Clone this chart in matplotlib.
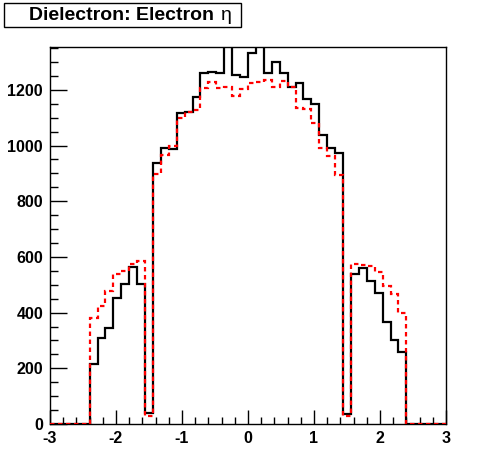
import numpy as np
import matplotlib.pyplot as plt

plt.rcParams['font.family'] = ['Liberation Sans', 'DejaVu Sans']
plt.rcParams['axes.unicode_minus'] = False

# 50 bins of eta from -3 to 3
edges = np.linspace(-3, 3, 51)

black_vals = [0, 0, 0, 0, 0,
              215, 310, 346, 454, 504, 565, 502, 41,
              938, 990, 986, 1118, 1120, 1175, 1259, 1265, 1262, 1380,
              1252, 1247, 1333, 1360, 1259, 1301, 1259, 1209, 1223, 1167,
              1148, 1038, 993, 974, 35,
              537, 561, 515, 469, 367, 302, 259,
              0, 0, 0, 0, 0]

red_vals = [0, 0, 0, 0, 0,
            381, 424, 478, 537, 548, 573, 586, 30,
            898, 966, 998, 1100, 1121, 1127, 1208, 1229, 1208, 1211,
            1179, 1202, 1223, 1229, 1235, 1211, 1233, 1209, 1136, 1130,
            1082, 990, 962, 894, 30,
            574, 571, 567, 545, 497, 466, 400,
            0, 0, 0, 0, 0]

fig = plt.figure(figsize=(4.96, 4.72), dpi=100)
ax = fig.add_axes([50/496, 1 - 424/472, 396/496, 377/472])

ax.stairs(black_vals, edges, baseline=0, color='black', linewidth=1.6, zorder=2)
ax.stairs(red_vals, edges, baseline=0, color='red', linewidth=1.6,
          linestyle=(0, (2, 1.6)), zorder=3)

ax.set_xlim(-3, 3)
ax.set_ylim(0, 1354)

ax.set_xticks(np.arange(-3, 4, 1))
ax.set_xticks(np.arange(-3, 3.01, 0.2), minor=True)
ax.set_yticks(np.arange(0, 1201, 200))
ax.set_yticks(np.arange(0, 1351, 50), minor=True)

ax.tick_params(which='both', direction='in', top=False, right=False,
               labelsize=11.5, width=1)
ax.tick_params(which='major', length=10)
ax.tick_params(which='minor', length=5)
ax.tick_params(axis='y', which='major', length=12, pad=5)
ax.tick_params(axis='y', which='minor', length=6)
ax.tick_params(axis='x', pad=5)
for lab in ax.get_xticklabels() + ax.get_yticklabels():
    lab.set_fontweight('bold')

for s in ax.spines.values():
    s.set_linewidth(1)

fig.text(29/496, 1 - 15/472, 'Dielectron: Electron', fontsize=14,
         fontweight='bold', va='center', ha='left')
fig.text(221/496, 1 - 16/472, '\u03b7', fontsize=14, va='center', ha='left')
box = plt.Rectangle((4/496, 1 - 27/472), 237/496, 24/472, transform=fig.transFigure,
                    fill=False, edgecolor='black', linewidth=1)
fig.patches.append(box)

fig.savefig('out.png', dpi=100)
